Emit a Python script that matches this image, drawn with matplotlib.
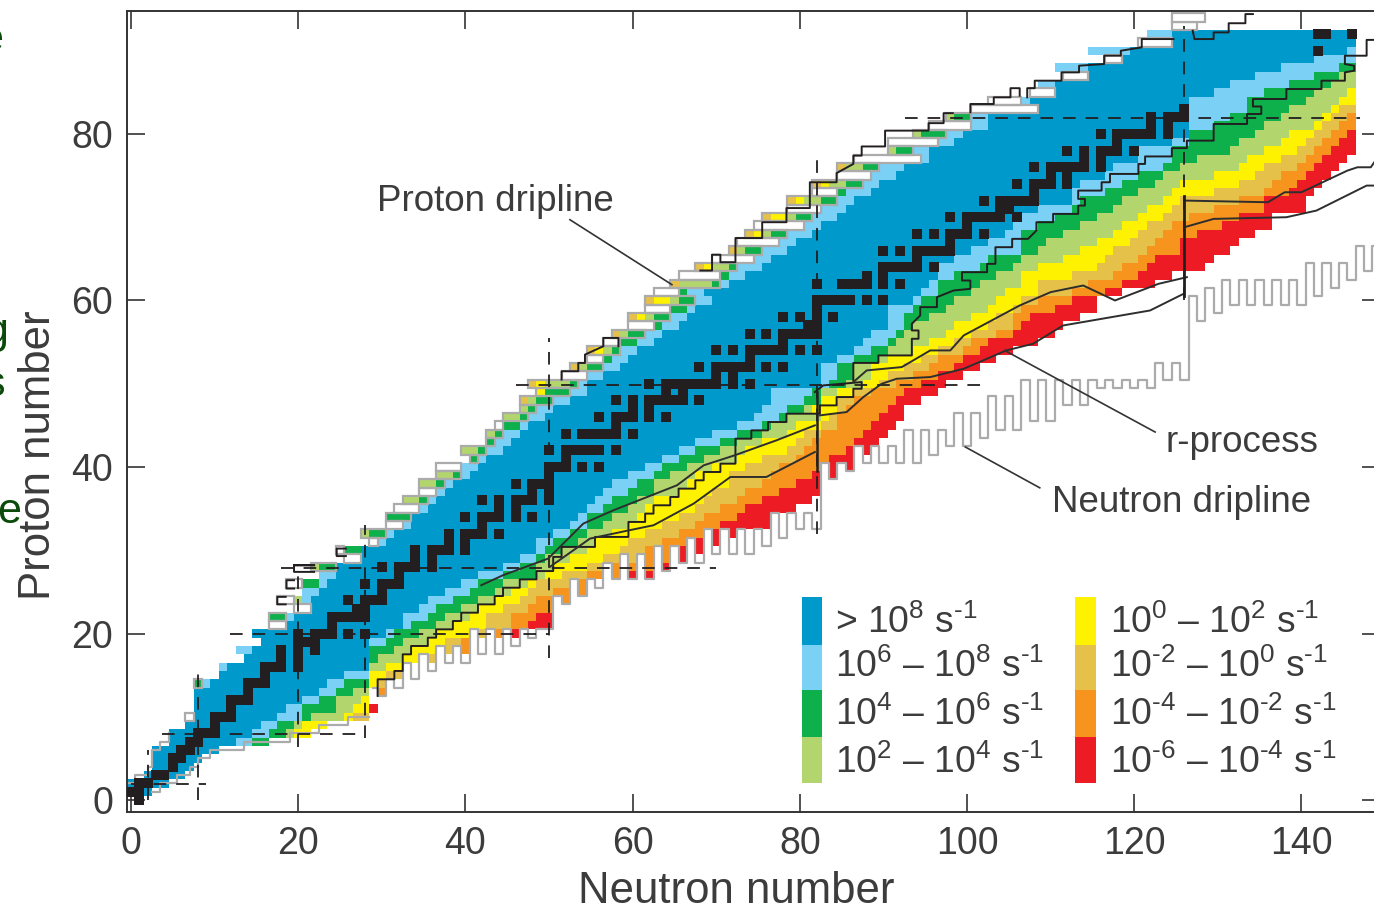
import numpy as np
import matplotlib
matplotlib.use("Agg")
from matplotlib import pyplot as plt
from matplotlib.colors import ListedColormap
from matplotlib.patches import Rectangle

plt.rcParams["font.family"] = ["Liberation Sans", "DejaVu Sans"]
plt.rcParams["mathtext.fontset"] = "custom"
plt.rcParams["mathtext.rm"] = "Liberation Sans"
plt.rcParams["mathtext.default"] = "regular"

# band colours, fast to slow
band_colors = ["#0099CC", "#7BD0F5", "#0DB04B", "#B2D66D", "#FFF200", "#E6C14A", "#F7941E", "#ED1C24"]
legend_labels = ["> 10$^{8}$ s$^{\\text{-}1}$", "10$^{6}$ – 10$^{8}$ s$^{\\text{-}1}$",
                 "10$^{4}$ – 10$^{6}$ s$^{\\text{-}1}$", "10$^{2}$ – 10$^{4}$ s$^{\\text{-}1}$",
                 "10$^{0}$ – 10$^{2}$ s$^{\\text{-}1}$", "10$^{\\text{-}2}$ – 10$^{0}$ s$^{\\text{-}1}$",
                 "10$^{\\text{-}4}$ – 10$^{\\text{-}2}$ s$^{\\text{-}1}$", "10$^{\\text{-}6}$ – 10$^{\\text{-}4}$ s$^{\\text{-}1}$"]

# last N of each band on the neutron rich side, for Z = 1..92
blue_end = [2,4,6,7,8,10,12,14,15,17,18,20,22,23,25,28,28,28,28,30,32,32,34,35,37,39,41,44,46,48,48,50,52,53,54,55,56,57,59,61,63,65,67,69,72,74,75,76,76,82,82,82,84,86,87,88,90,90,90,93,94,95,96,96,98,100,102,104,105,106,108,112,112,113,116,117,120,120,124,126,126,126,126,126,129,131,134,137,141,145,146,146]
lblue_end = [2,4,6,7,8,10,14,16,17,20,20,22,24,25,28,28,28,28,30,31,33,35,36,38,40,41,44,46,48,49,50,52,54,54,56,57,59,60,62,63,65,67,70,72,75,77,78,80,81,83,84,84,86,88,90,91,92,92,93,94,96,96,98,101,102,106,106,106,108,110,112,113,116,118,120,123,124,124,126,126,129,131,133,133,135,138,141,144,146,146,146,146]
green_end = [2,4,6,7,8,10,16,18,19,21,24,24,26,28,28,28,29,31,32,34,36,37,39,41,43,44,48,48,49,51,53,54,56,57,59,60,62,62,64,66,68,70,72,75,76,78,80,82,82,85,86,86,89,90,91,92,93,95,97,98,100,101,103,105,106,108,109,111,113,115,117,118,120,122,123,125,127,131,132,134,135,137,138,140,141,143,144,146,146,146,146,146]
lgreen_end = [2,4,6,7,8,10,16,19,20,25,26,27,28,28,28,30,32,33,35,36,38,40,41,43,45,47,49,50,52,54,55,57,59,60,61,62,65,66,67,69,72,73,75,78,79,82,81,82,84,87,88,88,90,93,95,97,98,100,102,103,104,106,106,108,111,113,115,117,118,120,121,123,124,125,129,132,133,135,137,138,141,142,143,144,145,146,146,146,146,146,146,146]
yellow_end = [2,4,6,7,8,10,16,21,23,26,28,28,29,29,30,32,35,36,37,40,42,42,44,46,47,48,51,54,56,58,59,61,63,65,67,68,69,71,71,73,75,78,79,80,82,83,84,84,86,89,90,92,94,96,98,100,102,103,105,106,108,108,112,115,116,117,119,120,121,123,124,125,129,132,134,135,137,139,140,141,142,143,144,146,146,146,146,146,146,146,146,146]
gold_end = [2,4,6,7,8,10,16,21,23,28,28,28,29,31,32,33,36,38,39,43,45,45,47,48,50,52,54,56,60,61,63,65,67,68,70,72,73,75,76,77,79,80,81,82,84,84,85,86,88,91,93,95,96,99,100,103,105,105,106,108,112,114,117,118,120,121,122,123,124,126,129,132,135,136,137,139,140,141,142,143,144,145,146,146,146,146,146,146,146,146,146,146]
orange_end = [2,4,6,7,8,10,16,21,23,28,28,28,30,31,33,33,36,40,40,45,47,48,50,52,54,54,58,62,64,65,67,68,70,72,73,75,77,79,81,82,83,85,86,87,88,89,90,91,92,94,96,98,99,101,102,105,106,107,110,112,116,118,120,121,122,125,125,127,130,132,135,135,138,139,140,141,142,143,144,145,146,146,146,146,146,146,146,146,146,146,146,146]
red_end = [2,4,6,7,8,10,16,21,23,28,28,28,30,31,33,33,36,40,40,47,50,50,50,52,54,54,62,64,66,68,70,72,76,77,79,81,82,82,84,86,86,88,89,90,91,92,92,94,96,97,99,101,103,105,108,110,111,113,115,115,118,122,124,128,129,131,132,134,136,136,140,140,141,142,143,144,145,146,146,146,146,146,146,146,146,146,146,146,146,146,146,146]

# proton rich side, for Z = 1..92: first N, then last N of white, yellow, light green, green, light blue
p_edge = [0,0,2,3,3,3,5,5,7,7,8,8,8,8,11,11,14,13,16,15,17,17,20,18,21,19,23,22,26,25,29,28,31,31,32,33,35,35,37,37,41,40,43,43,44,45,47,47,49,48,52,53,55,55,57,58,60,60,62,62,63,65,66,68,70,72,73,74,75,76,79,79,82,82,85,85,87,91,91,94,96,98,101,103,108,109,112,111,117,115,121,122]
p_white = [-1,-1,1,2,2,2,4,4,6,7,7,7,7,7,10,10,13,12,15,14,18,16,21,19,20,20,22,21,27,25,29,27,32,30,34,32,36,34,36,39,40,39,42,42,44,44,46,46,48,47,54,52,56,54,58,57,62,59,64,61,65,64,70,67,74,71,77,73,80,75,82,78,84,81,88,84,94,90,96,93,100,97,108,106,110,108,114,110,118,114,124,121]
p_yellow = [-1,-1,1,2,2,2,4,4,6,7,7,7,7,7,10,10,13,12,15,14,18,16,21,19,20,20,22,21,27,25,29,27,32,30,34,32,36,34,36,39,40,39,42,42,44,44,46,47,49,49,54,53,56,56,58,58,62,61,64,64,65,64,70,69,74,72,77,75,80,78,82,80,84,83,88,85,94,90,96,93,100,97,108,106,110,108,114,110,118,114,124,121]
p_lgreen = [-1,-1,1,2,2,2,4,4,6,7,7,7,7,7,10,10,13,12,15,14,18,16,21,20,20,20,22,22,27,25,29,28,32,30,34,34,36,36,38,39,40,41,42,43,44,46,47,48,49,52,54,54,56,57,58,59,62,62,64,65,65,69,70,71,74,73,77,76,80,79,82,82,84,85,88,87,94,91,96,94,100,98,108,106,110,108,114,110,118,114,124,121]
p_green = [-1,-1,1,2,2,2,4,4,6,7,7,7,7,8,10,10,13,12,15,14,18,18,21,20,20,22,22,24,27,27,29,30,32,33,34,35,36,37,39,39,41,42,43,44,46,47,48,50,52,53,54,56,57,58,60,61,63,64,66,67,66,70,71,72,74,75,77,78,80,81,82,84,85,87,88,89,94,93,96,97,100,100,108,106,110,108,114,110,118,114,124,121]
p_lblue = [-1,-1,1,2,2,2,4,4,6,7,7,7,7,9,10,11,13,14,15,14,18,19,21,21,22,23,24,24,27,27,30,31,33,33,35,36,37,38,40,41,42,44,45,46,47,49,50,52,54,54,56,58,59,60,62,63,65,66,67,69,68,71,73,75,76,78,79,81,82,84,85,86,88,89,91,92,95,95,98,99,102,102,108,107,110,110,114,114,118,119,124,124]
# gold cell at the very start of these rows
gold_rows = [48, 50, 52, 54, 56, 58, 60, 62, 64, 66, 68, 70, 72, 74, 76]
# white rows above the top of the grid
top_z = [93, 94]
top_first = [125, 125]
top_last = [127, 128]

# stable nuclei: neutron numbers for Z = 0..92
stable_n = [[1],[0,1],[1,2],[3,4],[5],[5,6],[6,7],[7,8],[8,9,10],[10],[10,11,12],[12],[12,13,14],[14],[14,15,16],[16],
            [16,17,18,20],[18,20],[18,20,22],[20,21,22],[20,22,23,24,26,28],[24],[24,25,26,27,28],[27,28],[26,28,29,30],
            [30],[28,30,31,32],[32],[30,32,33,34,36],[34,36],[34,36,37,38,40],[38,40],[38,40,41,42,44],[42],
            [40,42,43,44,46,48],[44,46],[42,44,46,47,48,50],[48,50],[46,48,49,50],[50],[50,51,52,54,56],[52],
            [50,52,53,54,55,56,58],[],[52,54,55,56,57,58,60],[58],[56,58,59,60,62,64],[60,62],
            [58,60,62,63,64,65,66,68],[64,66],[62,64,65,66,67,68,69,70,72,74],[70,72],[68,70,71,72,73,74,76,78],[74],
            [70,72,74,75,76,77,78,80,82],[78],[74,76,78,79,80,81,82],[81,82],[78,80,82,84],[82],[82,83,84,85,86,88,90],[],
            [82,85,86,87,88,90,92],[88,90],[90,91,92,93,94,96],[94],[90,92,94,95,96,97,98],[98],[94,96,98,99,100,102],[100],
            [98,100,101,102,103,104,106],[104,105],[102,104,105,106,107,108],[108],[106,108,109,110,112],[110,112],
            [108,110,111,112,113,114,116],[114,116],[112,114,116,117,118,120],[118],[116,118,119,120,121,122,124],[122,124],
            [122,124,125,126],[126],[],[],[],[],[],[],[142],[],[142,143,146]]

# neutron dripline, lower edge per N
drip_n = list(range(29, 150))
drip_z = [13.5,12.5,14.5,13.5,16.5,14.5,17.5,15.5,18.5,16.5,18.5,16.5,20.5,17.5,20.5,17.5,20.5,18.5,20.5,19.5,20.5,20.5,
          24.5,23.5,26.5,24.5,26.5,25.5,28.5,26.5,29.5,26.5,29.5,26.5,30.5,27.5,30.5,28.5,31.5,28.5,32.5,29.5,32.5,29.5,
          32.5,29.5,32.5,30.5,34.5,31.5,34.5,32.5,34.5,32.5,
          40.5,38.5,40.5,39.5,42.5,40.5,42.5,40.5,42.5,40.5,44.5,40.5,44.5,41.5,44.5,42.5,46.5,42.5,46.5,43.5,48.5,44.5,
          48.5,44.5,50.5,45.5,50.5,45.5,50.5,47.5,50.5,47.5,50.5,49.5,50.5,49.5,50.5,49.5,50.5,49.5,52.5,50.5,52.5,50.5,
          60.5,57.5,61.5,58.5,62.5,59.5,62.5,59.5,62.5,59.5,62.5,59.5,62.5,59.5,64.5,60.5,64.5,61.5,64.5,62.5,66.5,63.5,66.5]

# stepped black line on the neutron rich side
step_n = [29.5,29.5,31.5,31.5,32.5,32.5,33.5,33.5,35.5,35.5,36.5,36.5,38.5,38.5,39.5,39.5,41.5,41.5,43.5,43.5,44.5,44.5,46.5,46.5,48.5,48.5,50.5,50.5,51.5,51.5,55.5,55.5,59.5,59.5,61.5,61.5,62.5,62.5,64.5,64.5,65.5,65.5,67.5,67.5,68.5,68.5,70.5,70.5,72.3,72.3,74.2,74.2,76.2,76.2,78.4,78.4,81.9,82.4,82.4,84.4,84.4,86.4,86.4,87.4,87.4,82.8,81.8]
step_z = [12.5,14.5,14.5,15.5,15.5,17.5,17.5,18.5,18.5,19.5,19.5,20.5,20.5,21.5,21.5,22.5,22.5,23.5,23.5,24.5,24.5,25.5,25.5,26.5,26.5,27.5,27.5,29.2,29.2,30.4,30.4,31.6,31.6,33.4,33.4,34.4,34.4,35.4,35.4,36.4,36.4,37.4,37.4,38.4,38.4,39.4,39.4,40.4,40.4,43.4,43.4,44.4,44.4,45.4,45.4,46.4,46.4,46.4,47.4,47.4,48.4,48.4,49.4,49.4,50.2,49.8,49.0]
step2_n = [86.4,86.4,89.4,89.4,93.4,93.4,94.2,94.2,93.4,93.4,94.4,94.4,96.4,96.4,98.4,100.4,100.4,99.4,99.4,102.4,102.4,103.4,103.4,105.4,105.4,107.3,108.3,108.3,110.3,110.3,113.3,113.3,114.1,114.1,113.3,113.3,116.1,116.1,117.1,117.1,120.5,120.5,121.3,121.3,124.5,124.5,126.3,126.3,129.5,129.5,133.5,133.5,135.2,135.2,134.2,134.2,138.2,138.2,142.4,142.4,145.2,145.2,146.3,146.3,145.2,145.2,147.8,147.8,149.4]
step2_z = [50.4,52.5,52.5,53.4,53.4,55.4,55.4,56.4,56.4,57.2,58.2,59.2,59.2,60.4,61.2,61.4,62.4,62.4,63.4,63.4,64.4,64.4,66.4,66.4,67.4,67.4,68.4,69.4,69.4,70.4,70.4,71.4,71.4,72.2,72.2,73.2,73.2,74.2,74.2,75.2,75.2,76.4,76.4,77.3,77.3,78.3,78.3,79.2,79.2,81.2,81.2,82.4,82.4,83.3,83.3,84.2,84.2,85.4,85.4,86.4,86.4,87.4,87.6,88.2,88.4,89.4,89.4,91.3,91.3]

# stepped black pieces on the proton rich side, nan breaks the line
gap = float("nan")
pstep_n = [19.5,21.9,gap,21.9,19.5,19.5,21.9,gap,19.5,18.6,18.6,19.5,gap,18.5,17.5,17.5,18.5,gap,25.7,24.6,24.6,25.7,gap,
           51.5,51.5,53.5,53.5,54.3,54.3,56.5,56.5,58.3,58.3,gap,
           68.1,69.5,69.5,70.5,70.5,72.3,72.3,75.5,75.5,78.4,78.4,81.2,81.2,84.4,84.4,86.4,86.4,87.4,87.4,90.2,90.2,95.4,95.4,97.2,97.2,98.3,gap,
           100.4,100.4,103.2,103.2,105.2,105.2,106.3,106.3,gap,107.2,107.2,108.1,108.1,111.3,111.3,113.4,113.4,116.4,116.4,118.4,118.4,120.9,120.9,124.7,gap,
           127.0,127.2,129.5,129.5,131.3,131.3,133.3,133.3,134.2]
pstep_z = [28.2,28.2,gap,28.2,28.2,27.4,27.4,gap,26.4,26.4,25.4,25.4,gap,24.4,24.4,23.5,23.5,gap,30.2,30.2,29.3,29.3,gap,
           50.5,51.5,51.5,52.5,52.5,53.5,54.5,55.5,55.5,54.5,gap,
           63.6,63.6,65.5,65.5,64.6,64.6,67.5,67.5,69.4,69.4,71.1,71.1,74.2,74.2,75.3,76.4,77.4,77.4,78.5,78.5,80.4,80.4,81.3,81.3,82.5,82.5,gap,
           82.6,83.6,83.6,84.4,84.4,85.5,85.5,84.6,gap,84.4,85.5,85.5,86.4,86.4,87.4,87.4,88.2,88.4,89.4,89.4,90.0,90.4,91.4,91.4,gap,
           92.4,91.4,91.4,92.2,92.2,93.3,93.3,94.4,94.4]

# r-process path, smooth pieces
r1_n = [41.9,44.5,49.9,54.1,57.7,65.3,68.5,72.2,77.2,81.8]
r1_z = [25.8,27.0,29.0,33.2,34.8,37.8,40.2,41.4,43.2,45.0]
r2_n = [86.4,88.0,92.2,95.6,98.0,99.6,106.3,110.0,113.9,117.7,122.9,126.3]
r2_z = [50.2,51.6,52.0,54.0,54.0,55.8,59.4,61.0,61.8,60.0,62.0,62.8]
r3_n = [126.0,136.0,138.0,140.0,145.5,146.7,148.3,149.4]
r3_z = [72.0,71.8,73.0,73.0,75.6,76.0,76.0,77.6]
r4_n = [50.1,54.9,59.6,62.5,67.3,71.7,76.0,81.8]
r4_z = [28.0,31.4,32.4,33.0,35.6,38.8,38.8,41.8]
r5_n = [82.4,85.6,87.6,89.8,91.6,95.6,99.6,104.7,107.9,111.5,121.9,125.9]
r5_z = [46.2,46.6,48.4,50.0,50.6,50.8,51.8,54.0,54.8,57.0,58.8,60.8]
r6_n = [126.0,129.5,138.2,141.8,147.8,149.4]
r6_z = [68.8,69.8,70.0,70.8,73.8,73.8]

# closed shells: value, from, to
magic_z = [2, 8, 20, 28, 50, 82]
magic_z_from = [0, 3.7, 11.8, 18, 46, 92.6]
magic_z_to = [9, 28, 50, 70, 102.5, 147]
magic_n = [2, 8, 20, 28, 50, 82, 126]
magic_n_from = [0, 0, 6.4, 7.5, 17, 32, 60]
magic_n_to = [6, 16.2, 27, 33, 55.5, 77, 93]

# one lone red cell past N=28
lone_n = [29]
lone_z = [11]

n_cells = 150
z_cells = 95
grid = np.full((z_cells, n_cells), -1)
drip_lookup = dict(zip(drip_n, drip_z))
bands = [blue_end, lblue_end, green_end, lgreen_end, yellow_end, gold_end, orange_end, red_end]
p_bands = [(p_yellow, 4), (p_lgreen, 3), (p_green, 2), (p_lblue, 1)]

for i in range(92):
    z = i + 1
    start = p_lblue[i] + 1
    for b, ends in enumerate(bands):
        for n in range(start, ends[i] + 1):
            if n in drip_lookup and z - 0.5 < drip_lookup[n]:
                continue
            grid[z, n] = b
        start = max(start, ends[i] + 1)
    start = p_white[i] + 1
    for ends, b in p_bands:
        for n in range(start, ends[i] + 1):
            grid[z, n] = b
        start = max(start, ends[i] + 1)
    if z in gold_rows:
        grid[z, p_edge[i]] = 5
for n, z in zip(lone_n, lone_z):
    grid[z, n] = 7

fig = plt.figure(figsize=(13.74, 9.08), dpi=100)
ax = fig.add_axes([127 / 1374, 96 / 908, 1253 / 1374, 801 / 908])
n_edges = np.arange(n_cells + 1) - 0.5
z_edges = np.arange(z_cells + 1) - 0.5
cmap = ListedColormap(band_colors)
ax.pcolormesh(n_edges, z_edges, np.ma.masked_less(grid, 0), cmap=cmap, vmin=-0.5, vmax=7.5, zorder=1)

gray = "#ABABAB"
dark = "#231F20"
# grey frames round the rows left of the blue
for i in range(92):
    z = i + 1
    if z <= 8:
        continue
    last = p_white[i] if p_white[i] >= p_edge[i] else p_green[i]
    if last >= p_edge[i]:
        ax.add_patch(Rectangle((p_edge[i] - 0.5, z - 0.5), last - p_edge[i] + 1, 1, fc="none", ec=gray, lw=1.6, zorder=2))
for z, a, b in zip(top_z, top_first, top_last):
    ax.add_patch(Rectangle((a - 0.5, z - 0.5), b - a + 1, 1, fc="white", ec=gray, lw=1.6, zorder=2))
ax.step(np.array(p_edge[:8]) - 0.5, np.arange(1, 9), where="mid", color=gray, lw=1.6, zorder=2)
# low Z rows, grey along the neutron rich end
ax.step(np.array(red_end[:10]) + 0.5, np.arange(1, 11), where="mid", color=gray, lw=1.6, zorder=2)
ax.step(drip_n, drip_z, where="mid", color=gray, lw=1.6, zorder=2)

# stable nuclei, a bit fatter than the cells like the printed squares
for z, ns in enumerate(stable_n):
    if ns:
        ax.scatter(ns, [z] * len(ns), marker="s", s=60, color=dark, linewidths=0, zorder=3)

for value, a, b in zip(magic_z, magic_z_from, magic_z_to):
    ax.plot([a, b], [value - 0.1, value - 0.1], color=dark, lw=1.3, dashes=(7, 5.5), zorder=3)
for value, a, b in zip(magic_n, magic_n_from, magic_n_to):
    ax.plot([value, value], [a, b], color=dark, lw=1.3, dashes=(7, 5.5), zorder=3)

for xs, ys in [(step_n, step_z), (step2_n, step2_z), (pstep_n, pstep_z)]:
    ax.plot(xs, ys, color=dark, lw=1.4, zorder=4)
for xs, ys in [(r1_n, r1_z), (r2_n, r2_z), (r3_n, r3_z), (r4_n, r4_z), (r5_n, r5_z), (r6_n, r6_z)]:
    ax.plot(xs, ys, color="#2e2e2e", lw=1.4, zorder=4)
# the two jumps at the shell closures
ax.plot([82, 82], [39.5, 49], color=dark, lw=1.8, zorder=4)
ax.plot([126, 126], [60.5, 72.5], color=dark, lw=2.0, zorder=4)

# labels with pointers
txt = "#3C3C3C"
ax.plot([52.5, 64.7], [69.7, 61.9], color="#333333", lw=1.2, zorder=4)
ax.plot([122.5, 104.5], [44.2, 54.0], color="#333333", lw=1.2, zorder=4)
ax.plot([108.7, 99.8], [37.5, 42.4], color="#333333", lw=1.2, zorder=4)
ax.text(29.4, 71.9, "Proton dripline", fontsize=26.5, color=txt, va="center", ha="left")
ax.text(123.7, 42.9, "r-process", fontsize=26.5, color=txt, va="center", ha="left")
ax.text(110.2, 35.7, "Neutron dripline", fontsize=26.5, color=txt, va="center", ha="left")

# legend, drawn by hand in two columns
swatch_left = [80.3, 112.9]
swatch_w = [2.4, 2.5]
swatch_tops = [24.4, 18.6, 13.2, 7.6]
swatch_bottoms = [18.6, 13.2, 7.6, 2.0]
label_left = [84.2, 117.1]
label_y = [21.3, 16.0, 10.2, 4.4]
for col in range(2):
    for row in range(4):
        k = col * 4 + row
        ax.add_patch(Rectangle((swatch_left[col], swatch_bottoms[row]), swatch_w[col],
                               swatch_tops[row] - swatch_bottoms[row], fc=band_colors[k], ec="none", zorder=5))
        ax.text(label_left[col], label_y[row], legend_labels[k], fontsize=26.8, color=txt, va="center", ha="left")

ax.set_xlim(-0.48, 149.4)
ax.set_ylim(-1.44, 94.77)
ax.set_xticks(range(0, 141, 20))
ax.set_yticks(range(0, 81, 20))
ax.tick_params(direction="in", length=13, width=1.2, color="#333333", labelsize=27, labelcolor=txt,
               top=True, right=True, pad=10)
for s in ax.spines.values():
    s.set_color("#333333")
    s.set_linewidth(1.4)
ax.set_xlabel("Neutron number", fontsize=31.5, color=txt)
ax.set_ylabel("Proton number", fontsize=31.5, color=txt)
ax.yaxis.set_label_coords(-0.054, 0.446)
ax.xaxis.set_label_coords(0.486, -0.0735)

# bits of the neighbouring page's text cut by the left edge
page_green = "#0A4A0A"
for ch, x, y in [("e", 3, 40), ("g", 8, 332), ("s", 5, 385), ("e", 21, 512)]:
    fig.text(x / 1374, 1 - y / 908, ch, fontsize=31, color=page_green, ha="right", va="center")

fig.savefig("out.png", dpi=100)
